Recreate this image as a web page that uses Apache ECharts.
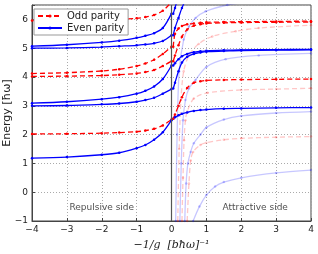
<!DOCTYPE html>
<html><head><meta charset="utf-8">
<script src="https://cdn.jsdelivr.net/npm/echarts@6/dist/echarts.min.js"></script>
<style>html,body{margin:0;padding:0;background:#fff}#c{width:318px;height:254px}</style>
</head><body><div id="c"></div>
<script>
// ---- data ----
const xTicks = [-4,-3,-2,-1,0,1,2,3,4];
const yTicks = [-1,0,1,2,3,4,5,6];
const xLeft = [-4,-3,-2,-1.5,-1,-0.75,-0.5,-0.25,0];
const evenL1 = [1.18,1.22,1.30,1.37,1.53,1.64,1.82,2.08,2.5];
const oddL1  = [2.02,2.03,2.05,2.07,2.10,2.14,2.20,2.32,2.52];
const evenL2 = [3.0,3.01,3.05,3.08,3.14,3.2,3.28,3.42,3.58];
const evenL3 = [3.09,3.14,3.23,3.3,3.42,3.52,3.67,3.93,4.4];
const oddL2  = [4.02,4.03,4.05,4.08,4.12,4.17,4.24,4.38,4.55];
const oddL3  = [4.12,4.15,4.21,4.27,4.38,4.47,4.6,4.8,5.05];
const evenL4 = [5.0,5.01,5.04,5.07,5.1,5.13,5.17,5.25,5.45];
const evenL5 = [5.07,5.12,5.2,5.26,5.36,5.43,5.52,5.7,6.2];
const oddL4  = [5.96,5.96,5.98,6.0,6.04,6.08,6.15,6.3,6.6];

const xRight = [0.05,0.1,0.2,0.3,0.45,0.64,0.83,1,1.5,2,3,4];
const evenR1 = [2.55,2.6,2.67,2.72,2.77,2.82,2.85,2.87,2.9,2.91,2.93,2.94];
const oddR1  = [2.55,2.7,3.0,3.3,3.62,3.8,3.85,3.88,3.9,3.91,3.92,3.93];
const evenR2 = [3.6,3.8,4.2,4.5,4.7,4.8,4.85,4.88,4.9,4.92,4.93,4.94];
const evenR3 = [4.4,4.48,4.62,4.72,4.8,4.86,4.89,4.91,4.93,4.94,4.95,4.96];
const oddR2  = [4.55,4.75,5.1,5.4,5.65,5.78,5.83,5.86,5.88,5.89,5.9,5.91];
const oddR3  = [5.05,5.5,5.68,5.77,5.83,5.86,5.88,5.9,5.91,5.92,5.93,5.94];
const evenR4 = [5.45,5.7,6.05,6.4,6.8];
const evenR5 = [6.2,6.4,6.8];

// faint (attractive-side bound branches)
const xF1 = [0.62,0.8,1.0,1.25,1.5,2,3,4];
const yF1 = [-1.0,-0.5,-0.1,0.2,0.35,0.5,0.67,0.77];
const xF2 = [0.45,0.5,0.55,0.62,0.83,1,1.5,2,3,4];
const yF2 = [-1,0.3,1.1,1.4,1.64,1.72,1.82,1.87,1.91,1.93];
const xF3 = [0.38,0.42,0.47,0.55,0.64,0.83,1,1.5,2,3,4];
const yF3 = [-1,0.3,1.0,1.4,1.7,2.0,2.25,2.52,2.65,2.75,2.8];
const xF4 = [0.3,0.33,0.36,0.4,0.45,0.64,1.03,2,3,4];
const yF4 = [-1,0.5,1.8,2.5,2.8,3.25,3.45,3.55,3.58,3.61];
const xF5 = [0.24,0.28,0.33,0.4,0.5,0.69,1,1.55,2.5,4];
const yF5 = [-1,1.0,2.5,3.2,3.6,3.9,4.35,4.62,4.75,4.82];
const xF6 = [0.18,0.22,0.27,0.35,0.5,0.78,1.17,1.84,2.5,4];
const yF6 = [-1,1.5,3.2,4.2,4.75,5.15,5.41,5.59,5.7,5.8];
const xF7 = [0.12,0.16,0.22,0.35,0.5,0.69,0.98,1.6,2.2];
const yF7 = [-1,2,4.2,5.3,5.75,6.05,6.28,6.5,6.6];

const RED = '#ff0000', BLUE = '#0000ff';
const ODD = 'Odd parity', EVEN = 'Even parity';

function zip(xs, ys){ return ys.map((y,i)=>[xs[i], y]); }
function mk(name, xs, ys, faint){
  const odd = name === ODD;
  const c = odd ? RED : BLUE;
  return {
    type:'line', name, data: zip(xs, ys), smooth: 0.3,
    symbol:'circle', symbolSize: 2.5, showSymbol:true,
    itemStyle:{color:c, opacity: faint?0.22:1},
    lineStyle:{color:c, width:1.3, type: odd?[5,3]:'solid', opacity: faint?0.22:1},
    emphasis:{disabled:true}, z: faint?2:3, clip:true, animation:false
  };
}

const series = [
  mk(ODD, xLeft, oddL1), mk(EVEN, xLeft, evenL1),
  mk(EVEN, xLeft, evenL2), mk(EVEN, xLeft, evenL3),
  mk(ODD, xLeft, oddL2), mk(ODD, xLeft, oddL3),
  mk(EVEN, xLeft, evenL4), mk(EVEN, xLeft, evenL5), mk(ODD, xLeft, oddL4),
  mk(EVEN, xRight, evenR1), mk(ODD, xRight, oddR1),
  mk(EVEN, xRight, evenR2), mk(EVEN, xRight, evenR3),
  mk(ODD, xRight, oddR2), mk(ODD, xRight, oddR3),
  mk(EVEN, xRight, evenR4), mk(EVEN, xRight, evenR5),
  mk(EVEN, xF1, yF1, true), mk(ODD, xF2, yF2, true), mk(EVEN, xF3, yF3, true),
  mk(ODD, xF4, yF4, true), mk(EVEN, xF5, yF5, true), mk(ODD, xF6, yF6, true),
  mk(EVEN, xF7, yF7, true),
  { type:'line', name:'zero', data:[], silent:true,
    markLine:{ silent:true, symbol:'none', label:{show:false},
      lineStyle:{color:'#555', width:1.2, type:'solid'}, data:[{xAxis:0}] } },
  { type:'scatter', name:'notes', symbolSize:0, silent:true,
    data:[{value:[-2,-0.55], label:{formatter:'Repulsive side'}},
          {value:[2.4,-0.55], label:{formatter:'Attractive side'}}],
    label:{show:true, position:'inside', color:'#222', fontSize:9, fontFamily:'DejaVu Sans'} }
];

const fmt = v => Number.isInteger(v) ? (v<0 ? '\u2212'+Math.abs(v) : String(v)) : '';

const chart = echarts.init(document.getElementById('c'), null, {renderer:'canvas'});
chart.setOption({
  animation:false,
  backgroundColor:'#fff',
  grid:{left:32, right:7, top:5, bottom:33, containLabel:false, outerBoundsMode:'none',
        show:true, borderColor:'#444', borderWidth:1, backgroundColor:'transparent'},
  legend:{
    data:[ODD, EVEN], orient:'vertical', left:34, top:9,
    backgroundColor:'#fff', borderColor:'#999', borderWidth:1, borderRadius:0,
    padding:[2,4,2,3], itemGap:2, itemWidth:24, itemHeight:4,
    textStyle:{fontSize:10, color:'#222', fontFamily:'DejaVu Sans'}
  },
  xAxis:{
    type:'value', min:-4, max:4, interval:1,
    name:'\u22121/g  [b\u0127\u03c9]\u207b\u00b9', nameLocation:'middle', nameGap:19, nameMoveOverlap:false,
    nameTextStyle:{fontFamily:'DejaVu Serif', fontStyle:'italic', fontSize:11, color:'#222'},
    axisLine:{onZero:false, lineStyle:{color:'#444'}},
    axisTick:{inside:true, length:3, lineStyle:{color:'#444'}},
    axisLabel:{formatter:fmt, fontSize:9, color:'#222', margin:4, fontFamily:'DejaVu Sans'},
    splitLine:{show:true, lineStyle:{color:'#aaa', type:[1,2], width:1}}
  },
  yAxis:{
    type:'value', min:-1, max:6.5, interval:1,
    name:'Energy [\u0127\u03c9]', nameLocation:'middle', nameGap:19, nameMoveOverlap:false,
    nameTextStyle:{fontFamily:'DejaVu Sans', fontSize:11, color:'#222'},
    axisLine:{onZero:false, lineStyle:{color:'#444'}},
    axisTick:{inside:true, length:3, lineStyle:{color:'#444'}},
    axisLabel:{formatter:fmt, fontSize:9, color:'#222', margin:4, fontFamily:'DejaVu Sans'},
    splitLine:{show:true, lineStyle:{color:'#aaa', type:[1,2], width:1}}
  },
  series
});
</script></body></html>
